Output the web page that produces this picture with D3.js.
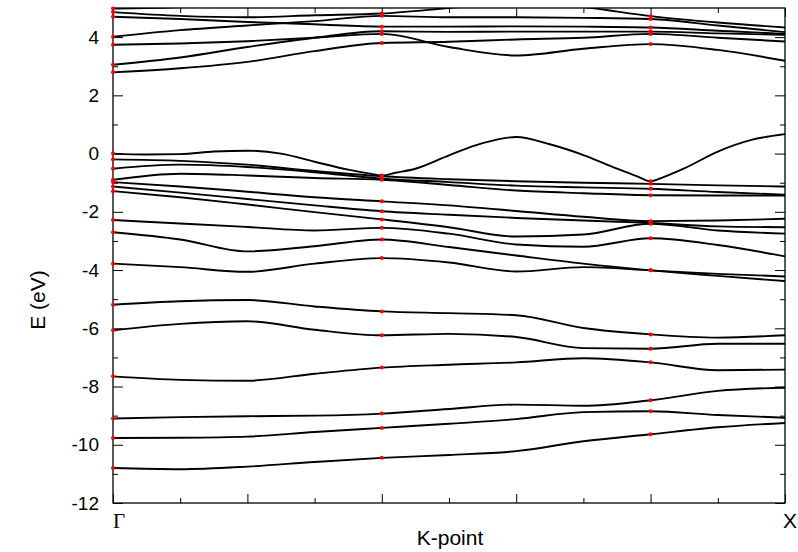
<!DOCTYPE html>
<html><head><meta charset="utf-8">
<script src="https://cdn.jsdelivr.net/npm/d3@7"></script>
<style>body{margin:0;background:#fff}svg{display:block}</style>
</head><body><svg id="c" width="798" height="552"></svg>
<script>
// ---- data ----
const kGrid = [0, 0.5, 1, 1.5, 2, 2.5, 3, 3.5, 4, 4.5, 5];
const kLabels = ["Γ", "X"];
const kLabelPos = [0, 5];
const markK = [0, 2, 4];
const yMajor = [-12, -10, -8, -6, -4, -2, 0, 2, 4];
const yMinor = [-11, -9, -7, -5, -3, -1, 1, 3];
const xMajor = [0, 1, 2, 3, 4, 5];
const xMinor = [0.5, 1.5, 2.5, 3.5, 4.5];

// conduction bands (eV) on kGrid
const cb0 = [4.98, 5.03, 5.4, 5.7, 5.9, 5.9, 5.9, 5.9, 5.9, 5.9, 5.9];
const cb1 = [4.86, 4.73, 4.68, 4.75, 4.81, 5.00, 5.20, 5.03, 4.72, 4.50, 4.33];
const cb2 = [4.70, 4.62, 4.52, 4.44, 4.36, 4.36, 4.37, 4.36, 4.33, 4.22, 4.11];
const cb3 = [4.01, 4.24, 4.40, 4.55, 4.73, 4.68, 4.68, 4.66, 4.62, 4.40, 4.17];
const cb4 = [3.74, 3.78, 3.86, 3.98, 4.11, 3.66, 3.37, 3.60, 3.76, 3.56, 3.19];
const cb5 = [3.05, 3.30, 3.66, 3.98, 4.20, 4.18, 4.19, 4.19, 4.19, 4.13, 4.08];
const cb6 = [2.79, 2.93, 3.15, 3.52, 3.80, 3.84, 3.92, 3.98, 4.11, 3.98, 3.85];

// top valence band (finer k sampling)
const vbTopK = [0, 0.25, 0.5, 0.75, 1, 1.25, 1.5, 1.75, 1.9, 2, 2.1, 2.25, 2.5, 2.75, 3, 3.25, 3.5, 3.75, 3.9, 4, 4.1, 4.25, 4.5, 4.75, 5];
const vbTopE = [0.00, -0.03, -0.02, 0.07, 0.10, 0.00, -0.28, -0.55, -0.68, -0.75, -0.66, -0.52, -0.06, 0.36, 0.57, 0.32, -0.05, -0.52, -0.78, -0.95, -0.80, -0.51, 0.07, 0.47, 0.67];

// valence bands (eV) on kGrid
const vb1 = [-0.20, -0.25, -0.38, -0.60, -0.78, -0.88, -0.95, -1.00, -1.04, -1.09, -1.13];
const vb2 = [-0.52, -0.38, -0.46, -0.64, -0.86, -0.98, -1.10, -1.16, -1.21, -1.32, -1.41];
const vb3 = [-0.90, -0.69, -0.75, -0.84, -0.90, -1.08, -1.27, -1.36, -1.43, -1.44, -1.44];
const vb4 = [-0.98, -1.13, -1.31, -1.50, -1.64, -1.78, -1.97, -2.17, -2.32, -2.30, -2.24];
const vb5 = [-1.13, -1.34, -1.56, -1.78, -1.98, -2.10, -2.21, -2.30, -2.38, -2.50, -2.53];
const vb6 = [-1.29, -1.50, -1.75, -2.01, -2.26, -2.53, -2.85, -2.78, -2.41, -2.64, -2.75];
const vb7 = [-2.28, -2.40, -2.52, -2.64, -2.55, -2.75, -3.12, -3.20, -2.91, -3.14, -3.53];
const vb8 = [-2.70, -2.95, -3.36, -3.18, -2.95, -3.21, -3.50, -3.78, -4.01, -4.20, -4.38];
const vb9 = [-3.78, -3.90, -4.06, -3.78, -3.59, -3.74, -4.05, -3.90, -4.01, -4.13, -4.22];
const vb10 = [-5.19, -5.07, -5.03, -5.25, -5.42, -5.48, -5.55, -5.99, -6.21, -6.32, -6.24];
const vb11 = [-6.07, -5.85, -5.76, -6.05, -6.24, -6.19, -6.30, -6.68, -6.70, -6.53, -6.53];
const vb12 = [-7.65, -7.77, -7.80, -7.56, -7.35, -7.25, -7.17, -7.03, -7.17, -7.44, -7.42];
const vb13 = [-9.10, -9.05, -9.02, -9.00, -8.93, -8.77, -8.62, -8.66, -8.47, -8.15, -8.04];
const vb14 = [-9.77, -9.76, -9.72, -9.56, -9.42, -9.28, -9.12, -8.88, -8.85, -8.98, -9.07];
const vb15 = [-10.80, -10.84, -10.75, -10.59, -10.45, -10.35, -10.22, -9.88, -9.64, -9.40, -9.25];

// ---- build ----
const bands = [cb0, cb1, cb2, cb3, cb4, cb5, cb6, vb1, vb2, vb3, vb4, vb5, vb6, vb7, vb8, vb9, vb10, vb11, vb12, vb13, vb14, vb15]
  .map(e => e.map((v, i) => ({k: kGrid[i], e: v})));
bands.push(vbTopE.map((v, i) => ({k: vbTopK[i], e: v})));

const svg = d3.select('#c');
const L = 113, R = 785, T = 8, B = 503;
const x = d3.scaleLinear().domain([0, 5]).range([L, R]);
const y = d3.scaleLinear().domain([-12, 5]).range([B, T]);
const FONT = "Arial, 'Liberation Sans', sans-serif";

svg.append('defs').append('clipPath').attr('id', 'pc')
  .append('rect').attr('x', L).attr('y', T).attr('width', R - L).attr('height', B - T);

function styleAxis(g) {
  g.select('.domain').remove();
  g.selectAll('line').attr('stroke', '#000').attr('stroke-width', 1);
  g.selectAll('text').attr('font-family', FONT).attr('font-size', 19).attr('fill', '#000');
}
// y axes
svg.append('g').attr('transform', `translate(${L},0)`)
  .call(d3.axisLeft(y).tickValues(yMajor).tickSize(-10).tickPadding(14).tickFormat(d => String(d)))
  .call(styleAxis);
svg.append('g').attr('transform', `translate(${L},0)`)
  .call(d3.axisLeft(y).tickValues(yMinor).tickSize(-5).tickFormat(''))
  .call(styleAxis);
svg.append('g').attr('transform', `translate(${R},0)`)
  .call(d3.axisRight(y).tickValues(yMajor).tickSize(-10).tickFormat(''))
  .call(styleAxis);
svg.append('g').attr('transform', `translate(${R},0)`)
  .call(d3.axisRight(y).tickValues(yMinor).tickSize(-5).tickFormat(''))
  .call(styleAxis);
// x axes
svg.append('g').attr('transform', `translate(0,${B})`)
  .call(d3.axisBottom(x).tickValues(xMajor).tickSize(-9).tickFormat(''))
  .call(styleAxis);
svg.append('g').attr('transform', `translate(0,${B})`)
  .call(d3.axisBottom(x).tickValues(xMinor).tickSize(-5).tickFormat(''))
  .call(styleAxis);
svg.append('g').attr('transform', `translate(0,${T})`)
  .call(d3.axisTop(x).tickValues(xMajor).tickSize(-9).tickFormat(''))
  .call(styleAxis);
svg.append('g').attr('transform', `translate(0,${T})`)
  .call(d3.axisTop(x).tickValues(xMinor).tickSize(-5).tickFormat(''))
  .call(styleAxis);

// frame
svg.append('rect').attr('x', L).attr('y', T).attr('width', R - L).attr('height', B - T)
  .attr('fill', 'none').attr('stroke', '#000').attr('stroke-width', 1.3);

// bands
const line = d3.line().x(d => x(d.k)).y(d => y(d.e)).curve(d3.curveMonotoneX);
svg.append('g').attr('clip-path', 'url(#pc)')
  .selectAll('path').data(bands).join('path')
  .attr('d', line).attr('fill', 'none').attr('stroke', '#000').attr('stroke-width', 1.9);

// markers at high-symmetry points
const marks = [];
bands.forEach(b => markK.forEach(k => {
  const p = b.find(d => Math.abs(d.k - k) < 1e-9);
  if (p && p.e <= 5 && p.e >= -12) marks.push(p);
}));
svg.append('g').selectAll('circle').data(marks).join('circle')
  .attr('cx', d => x(d.k)).attr('cy', d => y(d.e)).attr('r', 2).attr('fill', '#ff0000');

// labels
svg.selectAll('text.kl').data(kLabelPos).join('text').attr('class', 'kl')
  .attr('x', (d, i) => x(d) + (i === 0 ? 0 : -2)).attr('y', 528)
  .attr('font-family', (d, i) => i === 0 ? "'Times New Roman', 'Liberation Serif', serif" : FONT)
  .attr('font-size', 21)
  .text((d, i) => kLabels[i]);
svg.append('text').attr('x', 450).attr('y', 545).attr('text-anchor', 'middle')
  .attr('font-family', FONT).attr('font-size', 21).text('K-point');
svg.append('text').attr('transform', 'translate(45,300) rotate(-90)').attr('text-anchor', 'middle')
  .attr('font-family', FONT).attr('font-size', 21).text('E (eV)');
</script></body></html>
